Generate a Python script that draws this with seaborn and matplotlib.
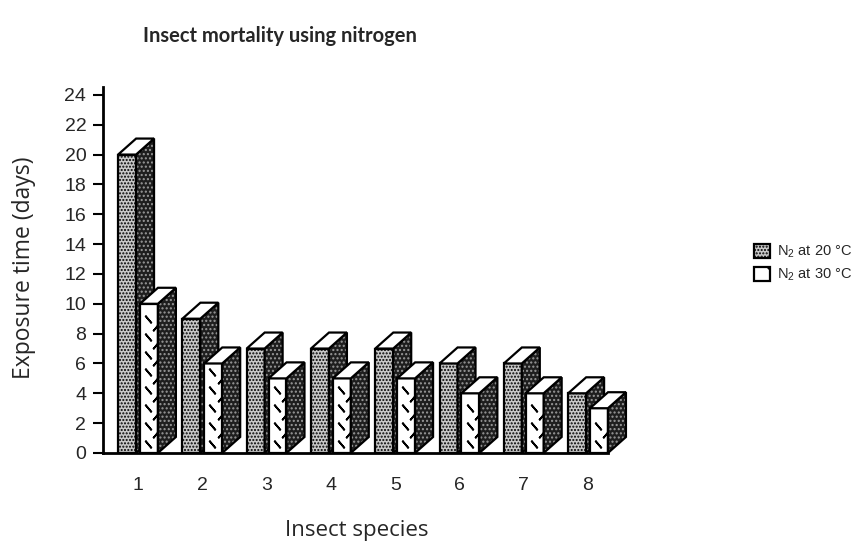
import numpy as np
import pandas as pd
import matplotlib.pyplot as plt
import seaborn as sns
from matplotlib.patches import Polygon, Patch

# -------------------------
# Data
# -------------------------
species = ['1', '2', '3', '4', '5', '6', '7', '8']
n2_20c = [20, 9, 7, 7, 7, 6, 6, 4]
n2_30c = [10, 6, 5, 5, 5, 4, 4, 3]
series_labels = ['N$_2$ at 20 °C', 'N$_2$ at 30 °C']
y_ticks = list(range(0, 25, 2))

df = pd.DataFrame({
    'species': species * 2,
    'days': n2_20c + n2_30c,
    'cond': [series_labels[0]] * len(species) + [series_labels[1]] * len(species),
})

# -------------------------
# Style
# -------------------------
sns.set_style('white')
plt.rcParams['font.family'] = ['Liberation Sans', 'DejaVu Sans']
plt.rcParams['mathtext.fontset'] = 'custom'
plt.rcParams['mathtext.rm'] = 'Liberation Sans'
plt.rcParams['mathtext.default'] = 'regular'
plt.rcParams['hatch.linewidth'] = 1.0

fig = plt.figure(figsize=(8.55, 5.44), dpi=100)
ax = fig.add_axes([0.1205, 0.1673, 0.5906, 0.672])

sns.barplot(data=df, x='species', y='days', hue='cond', width=0.68, gap=0.18,
            palette=['#c8c8c8', 'white'], edgecolor='black', linewidth=1.6,
            legend=False, ax=ax)

ax.set_xlim(-0.544, 7.31)
ax.set_ylim(0, 24.5)

# depth of the fake 3D faces, in pixels -> data units
ax_w = 0.5906 * 855
ax_h = 0.672 * 544
dx = 18 * (7.31 + 0.544) / ax_w
dy = 16 * 24.5 / ax_h

for k, cont in enumerate(ax.containers):
    z = 2 + k
    for bar in cont:
        bar.set_zorder(z)
        x0 = bar.get_x()
        x1 = x0 + bar.get_width()
        h = bar.get_height()
        if k == 0:
            bar.set_hatch('.....')
        # side face (dark stipple)
        side = [(x1, 0), (x1 + dx, dy), (x1 + dx, h + dy), (x1, h)]
        ax.add_patch(Polygon(side, closed=True, facecolor='#1e1e1e', edgecolor='#9a9a9a',
                             hatch='....', lw=0, zorder=z + 0.1, clip_on=False))
        ax.add_patch(Polygon(side, closed=True, fill=False, edgecolor='black',
                             lw=1.6, zorder=z + 0.2, clip_on=False))
        # top face (white)
        top = [(x0, h), (x0 + dx, h + dy), (x1 + dx, h + dy), (x1, h)]
        ax.add_patch(Polygon(top, closed=True, facecolor='white', edgecolor='black',
                             lw=1.6, zorder=z + 0.2, clip_on=False))
        # dash marks on the white bars
        if k == 1:
            xc = x0 + 0.45 * (x1 - x0)
            xr = x0 + 0.85 * (x1 - x0)
            ys = np.arange(0.6, h - 0.3, 1.2)
            ax.plot([xc] * len(ys), ys, ls='none', marker=(2, 2, 40), ms=7,
                    mec='black', mew=1.3, zorder=z + 0.05)
            ys2 = np.arange(1.2, h - 0.6, 1.2)
            ax.plot([xr] * len(ys2), ys2, ls='none', marker=(2, 2, -40), ms=5,
                    mec='black', mew=1.3, zorder=z + 0.05)

# -------------------------
# Axes
# -------------------------
for s in ['top', 'right']:
    ax.spines[s].set_visible(False)
for s in ['left', 'bottom']:
    ax.spines[s].set_linewidth(2)
    ax.spines[s].set_color('black')
    ax.spines[s].set_zorder(6)

ax.set_yticks(y_ticks)
ax.tick_params(axis='y', direction='out', length=7, width=1.5, color='black',
               labelsize=14, pad=5, left=True)
ax.tick_params(axis='x', length=0, labelsize=14, pad=17)

ax.set_ylabel('Exposure time (days)', fontsize=16.5, family='Open Sans')
ax.yaxis.set_label_coords(-0.133, 0.506)
ax.set_xlabel('Insect species', fontsize=16, family='Open Sans', weight='medium')
ax.xaxis.set_label_coords(0.502, -0.183)

fig.text(280 / 855, 1 - 36 / 544, 'Insect mortality using nitrogen', ha='center',
         va='center', fontsize=14.5, family='Lato', weight='bold')

handles = [Patch(facecolor='#c8c8c8', edgecolor='black', hatch='.....', lw=1.6),
           Patch(facecolor='white', edgecolor='black', hatch='\\', lw=1.6)]
fig.legend(handles, series_labels, loc='upper left',
           bbox_to_anchor=(754 / 855, 1 - 244 / 544), frameon=False,
           handlelength=1.1, handleheight=1.1, handletextpad=0.5,
           labelspacing=0.45, borderpad=0, borderaxespad=0, fontsize=10.5)

fig.savefig('out.png', dpi=100)
